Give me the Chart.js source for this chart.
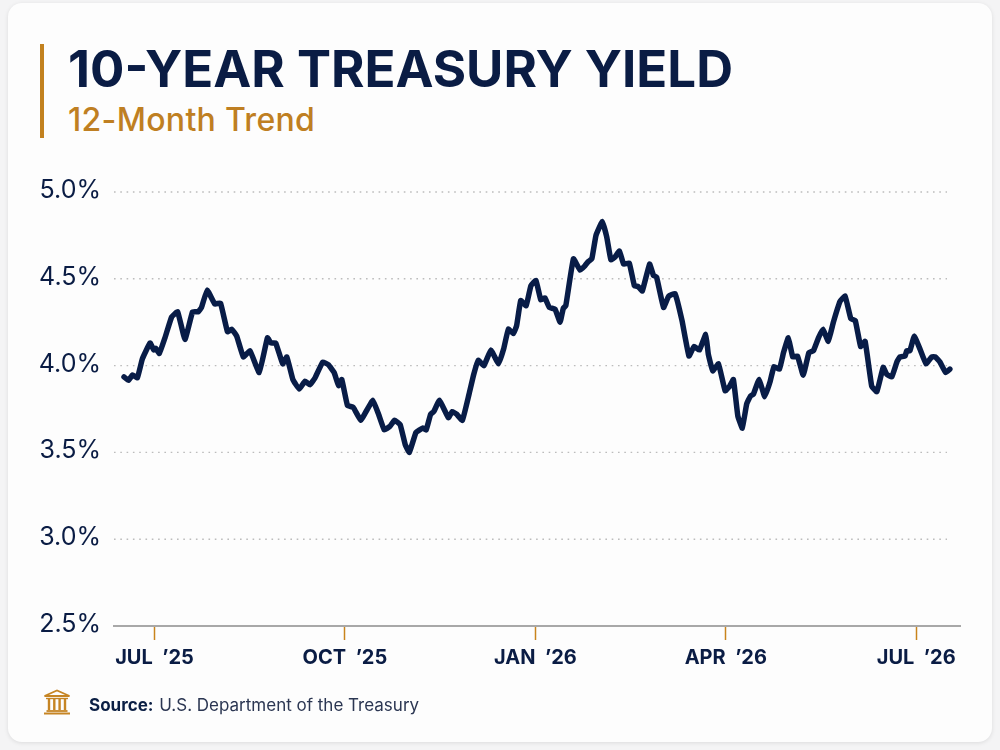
<!DOCTYPE html>
<html>
<head>
<meta charset="utf-8">
<title>10-Year Treasury Yield</title>
<script src="https://cdn.jsdelivr.net/npm/chart.js@4"></script>
<style>
  html, body { margin: 0; padding: 0; background: #f4f4f5; }
  body { width: 1000px; height: 750px; position: relative; overflow: hidden; font-family: Inter, sans-serif; }
  .card { position: absolute; left: 8px; top: 3px; width: 984px; height: 739px; background: #fdfdfd; border-radius: 14px; box-shadow: 0 1px 4px rgba(0,0,0,0.10); }
  .rule { position: absolute; left: 40px; top: 44px; width: 4px; height: 94px; background: #c2811f; }
  h1 { position: absolute; left: 68px; top: 39px; margin: 0; font-size: 51px; line-height: 60px; font-weight: 700; color: #0a1c44; white-space: nowrap; }
  h2 { position: absolute; left: 68px; top: 100px; margin: 0; font-size: 32px; line-height: 40px; font-weight: 500; letter-spacing: 0.3px; color: #bf7f22; white-space: nowrap; }
  canvas { position: absolute; left: 0; top: 0; }
  .source { position: absolute; left: 89px; top: 695px; font-size: 17px; line-height: 20px; color: #2b3652; white-space: nowrap; }
  .source b { color: #0b1f44; font-weight: 700; margin-right: 1px; }
  svg { position: absolute; left: 43px; top: 689px; }
</style>
</head>
<body>
<div class="card"></div>
<div class="rule"></div>
<h1>10-YEAR TREASURY YIELD</h1>
<h2>12-Month Trend</h2>
<canvas id="yieldChart" width="1000" height="750"></canvas>
<svg width="28" height="26" viewBox="0 0 28 26" fill="none" stroke="#c68524" stroke-width="1.8">
  <path d="M1.5 7 L14 1.5 L26.5 7 Z" />
  <path d="M3 9.5 H25" stroke-width="1.4" />
  <path d="M6 10 V21 M11.3 10 V21 M16.6 10 V21 M22 10 V21" stroke-width="2.4" />
  <path d="M3.5 22 H24.5" />
  <path d="M1 24.5 H27" stroke-width="2" />
</svg>
<div class="source"><b>Source:</b> U.S. Department of the Treasury</div>
<script>
// months since Jul '25
const months = [-0.48,-0.41,-0.345,-0.27,-0.19,-0.07,-0.01,0.02,0.076,0.165,0.27,0.365,0.48,0.60,0.69,0.74,0.83,0.95,1.04,1.15,1.215,1.295,1.40,1.505,1.65,1.78,1.835,1.91,2.02,2.085,2.18,2.28,2.37,2.45,2.53,2.65,2.74,2.83,2.90,2.95,3.04,3.13,3.25,3.34,3.44,3.53,3.62,3.71,3.78,3.87,3.95,
  4.015,4.12,4.225,4.28,4.35,4.40,4.49,4.63,4.69,4.76,4.85,4.955,5.03,5.10,5.19,5.30,5.42,5.50,5.575,5.655,5.705,5.77,5.855,5.93,6.01,6.085,6.15,6.22,6.31,6.39,6.44,6.48,6.60,6.705,6.78,6.835,6.89,6.955,7.055,7.125,7.19,7.255,7.325,7.39,7.48,7.56,7.62,7.685,7.80,7.86,7.91,8.02,8.10,8.20,8.31,8.42,
  8.50,8.585,8.685,8.725,8.795,8.885,8.99,9.06,9.12,9.19,9.26,9.33,9.39,9.435,9.525,9.615,9.70,9.76,9.845,9.91,9.985,10.055,10.13,10.22,10.31,10.38,10.46,10.53,10.615,10.695,10.80,10.88,10.97,11.04,11.125,11.195,11.30,11.38,11.48,11.535,11.615,11.70,11.745,11.825,11.85,11.90,11.97,12.06,12.155,12.245,12.30,12.375,12.465,12.53];
const yields = [3.935,3.915,3.946,3.93,4.04,4.13,4.09,4.10,4.07,4.16,4.28,4.31,4.15,4.31,4.31,4.335,4.435,4.355,4.36,4.195,4.21,4.17,4.05,4.085,3.96,4.16,4.13,4.13,4.01,4.05,3.92,3.865,3.91,3.89,3.93,4.02,4.005,3.96,3.885,3.92,3.77,3.76,3.685,3.74,3.80,3.72,3.63,3.65,3.685,3.66,3.545,
  3.50,3.615,3.64,3.63,3.72,3.735,3.80,3.70,3.735,3.72,3.685,3.835,3.95,4.03,4.0,4.09,4.01,4.095,4.21,4.185,4.23,4.375,4.345,4.46,4.49,4.38,4.39,4.335,4.325,4.25,4.33,4.345,4.615,4.55,4.575,4.60,4.615,4.75,4.83,4.74,4.61,4.625,4.66,4.585,4.59,4.46,4.455,4.43,4.585,4.52,4.51,4.335,4.40,4.415,4.26,4.055,
  4.11,4.09,4.18,4.065,3.97,4.01,3.855,3.88,3.92,3.71,3.64,3.78,3.825,3.835,3.92,3.82,3.91,3.995,3.98,4.075,4.16,4.05,4.055,3.945,4.075,4.085,4.16,4.21,4.14,4.25,4.37,4.40,4.27,4.26,4.11,4.14,3.88,3.85,3.99,3.95,3.935,4.025,4.05,4.055,4.085,4.085,4.17,4.095,4.01,4.05,4.05,4.02,3.96,3.98];
const xTickValues = [0, 3, 6, 9, 12];
const xTickLabels = ["JUL  \u201925", "OCT  \u201925", "JAN  \u201926", "APR  \u201926", "JUL  \u201926"];
const yTickValues = [2.5, 3.0, 3.5, 4.0, 4.5, 5.0];

const navy = '#0a1c44';
const gold = '#c9841c';

// dotted guides stop short of the solid baseline's right end
const dottedGrid = {
  id: 'dottedGrid',
  beforeDatasetsDraw(chart) {
    const { ctx, chartArea, scales } = chart;
    ctx.save();
    ctx.strokeStyle = '#bcbcbc';
    ctx.lineWidth = 1.4;
    ctx.setLineDash([1.6, 4.7]);
    yTickValues.slice(1).forEach(v => {
      const y = scales.y.getPixelForValue(v);
      ctx.beginPath();
      ctx.moveTo(chartArea.left, y);
      ctx.lineTo(chartArea.right - 13, y);
      ctx.stroke();
    });
    ctx.restore();
  }
};

new Chart(document.getElementById('yieldChart').getContext('2d'), {
  type: 'line',
  plugins: [dottedGrid],
  data: {
    datasets: [{
      label: '10-Year Treasury Yield',
      data: months.map((m, i) => ({ x: m, y: yields[i] })),
      borderColor: '#081c47',
      borderWidth: 5.5,
      borderCapStyle: 'round',
      borderJoinStyle: 'round',
      pointRadius: 0,
      tension: 0.1
    }]
  },
  options: {
    responsive: false,
    animation: false,
    layout: { padding: { top: 192, right: 40, bottom: 24, left: 0 } },
    plugins: { legend: { display: false }, tooltip: { enabled: false } },
    scales: {
      x: {
        type: 'linear',
        min: -0.638,
        max: 12.69,
        afterBuildTicks: axis => { axis.ticks = xTickValues.map(v => ({ value: v })); },
        afterFit: axis => { axis.height = 100; },
        border: { color: '#a8a8a8', width: 2 },
        grid: { drawOnChartArea: false, tickColor: gold, tickLength: 14, tickWidth: 1.5 },
        ticks: {
          color: navy,
          padding: 6,
          autoSkip: false,
          maxRotation: 0,
          font: { family: 'Inter', size: 20, weight: '700' },
          callback: v => xTickLabels[xTickValues.indexOf(v)]
        }
      },
      y: {
        min: 2.5,
        max: 5.0,
        afterBuildTicks: axis => { axis.ticks = yTickValues.map(v => ({ value: v })); },
        afterFit: axis => { axis.width = 114; },
        border: { display: false },
        grid: { display: false, drawTicks: false },
        ticks: {
          color: navy,
          padding: 13,
          labelOffset: -1.5,
          font: { family: 'Inter', size: 25, weight: '400' },
          callback: v => v.toFixed(1) + '%'
        }
      }
    }
  }
});
</script>
</body>
</html>
